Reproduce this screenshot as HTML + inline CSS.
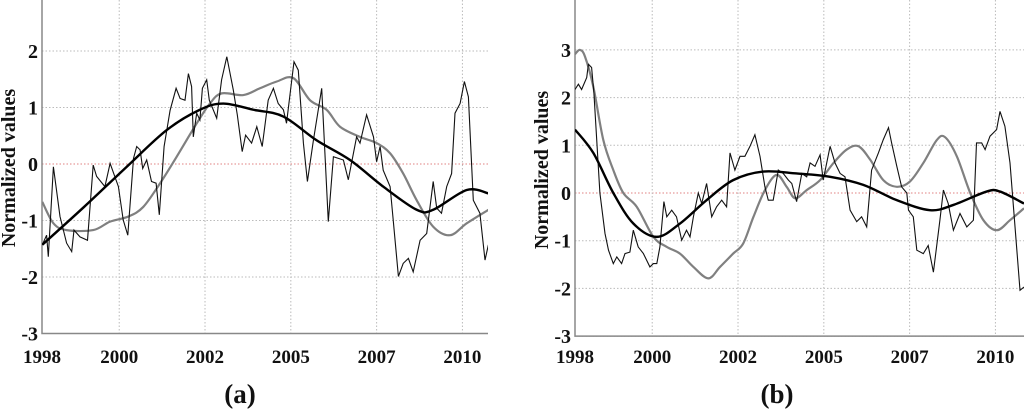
<!DOCTYPE html>
<html><head><meta charset="utf-8"><style>
html,body{margin:0;padding:0;background:#fff;width:1024px;height:411px;overflow:hidden}
svg text{font-family:"Liberation Serif",serif;font-weight:bold;fill:#111}
</style></head><body>
<svg id="chart" width="1024" height="411" viewBox="0 0 1024 411" xmlns="http://www.w3.org/2000/svg"></svg>
<script>
const xTickMonths=[0,27,57,87,117,147];
const xTickLabels=['1998','2000','2002','2005','2007','2010'];
const aYTicks=[-3,-2,-1,0,1,2];
const bYTicks=[-3,-2,-1,0,1,2,3];
const aThinMonths=[0.1,1.6,2.2,4.0,6.3,8.6,10.4,11.2,13.3,15.9,17.9,19.1,22.0,23.8,26.7,28.4,30.0,32.0,33.1,34.3,35.2,36.6,38.3,39.9,41.0,42.7,44.8,46.9,48.3,50.0,51.2,52.3,52.9,54.1,55.2,56.1,57.6,58.5,61.1,62.8,64.6,66.9,68.3,70.0,71.2,73.3,75.1,77.0,79.1,80.9,82.6,84.4,85.5,88.1,89.6,91.4,92.8,94.9,97.8,100.1,101.9,105.4,107.1,110.0,111.2,113.5,115.9,117.0,118.2,119.3,121.7,122.8,124.6,126.3,128.1,129.8,132.2,134.5,136.8,138.0,139.7,141.5,143.2,144.4,146.2,147.7,149.1,150.8,153.1,154.9,156.1];
const aThinValues=[-1.43,-1.26,-1.64,-0.05,-0.93,-1.40,-1.55,-1.17,-1.29,-1.35,-0.02,-0.22,-0.40,0.01,-0.40,-0.99,-1.26,0.10,0.31,0.25,-0.08,0.07,-0.31,-0.34,-0.90,0.31,0.95,1.34,1.16,1.13,1.60,1.37,0.48,0.90,0.78,1.34,1.49,1.13,0.81,1.49,1.90,1.31,0.87,0.22,0.51,0.37,0.66,0.31,1.13,1.34,1.07,0.96,0.72,1.81,1.66,0.37,-0.31,0.42,1.34,-1.02,0.13,0.07,-0.28,0.48,0.37,0.87,0.48,0.04,0.31,-0.11,-0.40,-0.99,-1.99,-1.76,-1.67,-1.91,-1.35,-1.23,-0.31,-0.78,-0.87,-0.40,-0.17,0.90,1.07,1.46,1.19,-0.64,-0.87,-1.70,-1.43];
const aGrayMonths=[0.1,4.0,8.6,17.9,23.8,30.2,35.4,41.3,47.1,54.1,58.7,62.8,70.4,76.2,82.1,87.9,93.7,99.5,104.2,111.2,117.0,121.7,126.3,131.0,136.8,142.7,148.5,156.1];
const aGrayValues=[-0.67,-1.05,-1.17,-1.17,-1.02,-0.93,-0.76,-0.34,0.13,0.72,1.07,1.25,1.22,1.34,1.46,1.52,1.13,0.96,0.66,0.48,0.37,0.19,-0.17,-0.64,-1.11,-1.26,-1.05,-0.81];
const aTrendMonths=[0.1,14.7,29.6,43.6,55.2,63.4,73.9,84.4,96.0,107.7,119.3,131.0,136.8,148.5,156.1];
const aTrendValues=[-1.43,-0.76,-0.05,0.60,0.96,1.07,0.96,0.84,0.42,0.07,-0.40,-0.81,-0.81,-0.46,-0.52];
const bThinMonths=[0,1.2,2.3,4.1,4.7,5.8,6.6,8.7,10.5,11.7,13.4,14.6,16.3,17.5,19.2,20.4,22.1,23.9,26.2,27.4,28.6,29.7,31.1,32.1,33.8,35.5,37.3,39.0,40.2,41.4,43.1,44.3,46.0,47.8,49.5,51.3,53.0,54.2,55.9,57.7,59.4,61.2,62.9,64.7,66.4,67.6,69.3,71.1,72.8,74.6,75.8,77.5,79.3,81.0,82.2,83.9,85.7,86.8,89.2,90.9,92.7,94.4,96.2,98.5,100.2,102.0,103.7,106.1,107.8,109.6,110.7,112.5,114.2,116.0,116.6,118.3,119.5,121.8,123.5,125.3,127.6,128.8,130.5,132.3,134.6,137.0,139.3,140.4,142.2,143.4,145.1,147.4,148.6,150.3,152.1,154.4,155.6,157.0];
const bThinValues=[2.17,2.28,2.17,2.42,2.70,2.63,2.10,0.0,-0.85,-1.20,-1.48,-1.34,-1.48,-1.27,-1.24,-0.78,-1.13,-1.27,-1.55,-1.48,-1.48,-1.13,-0.18,-0.50,-0.36,-0.50,-0.99,-0.78,-0.92,-0.50,0.0,-0.22,0.20,-0.50,-0.29,-0.15,-0.29,0.84,0.48,0.77,0.77,0.98,1.22,0.77,0.13,-0.15,-0.15,0.48,0.41,0.27,0.20,-0.18,0.41,0.34,0.63,0.56,0.80,0.27,0.98,0.63,0.41,0.34,-0.36,-0.60,-0.50,-0.71,0.48,0.84,1.12,1.37,1.05,0.56,0.13,0.0,-0.36,-0.50,-1.20,-1.27,-1.10,-1.66,-0.57,0.06,-0.22,-0.78,-0.43,-0.71,-0.57,1.05,1.05,0.91,1.19,1.33,1.71,1.40,0.63,-1.13,-2.04,-1.97];
const bGrayMonths=[0,1.7,3.5,6.4,9.9,13.4,16.9,21.6,27.4,32.1,36.7,41.4,46.6,50.7,55.3,58.8,62.4,66.4,70.5,74.0,77.0,81.0,85.7,90.4,95.0,99.1,103.2,107.8,112.5,117.1,121.8,126.5,129.4,133.5,138.2,142.8,147.5,152.1,157.0];
const bGrayValues=[2.91,3.0,2.86,2.23,1.11,0.48,0.0,-0.29,-0.92,-1.13,-1.27,-1.55,-1.79,-1.55,-1.27,-1.06,-0.50,0.06,0.38,0.13,-0.11,0.06,0.27,0.63,0.91,0.98,0.70,0.27,0.13,0.24,0.63,1.11,1.17,0.77,0.0,-0.57,-0.78,-0.57,-0.32];
const bTrendMonths=[0,6.4,13.4,20.4,28.6,36.7,46.0,55.3,65.8,77.5,89.2,100.8,112.5,124.1,132.3,143.9,148.6,157.0];
const bTrendValues=[1.33,0.84,0.0,-0.64,-0.92,-0.64,-0.15,0.27,0.45,0.41,0.34,0.17,-0.15,-0.36,-0.25,0.03,0.03,-0.22];

const NS='http://www.w3.org/2000/svg';
const svg=document.getElementById('chart');
function mk(tag,attrs,parent){const e=document.createElementNS(NS,tag);for(const k in attrs)e.setAttribute(k,attrs[k]);(parent||svg).appendChild(e);return e;}
function linePath(xs,ys,X,Y){return xs.map((m,i)=>(i?'L':'M')+X(m).toFixed(1)+','+Y(ys[i]).toFixed(1)).join('');}
function smoothPath(xs,ys,X,Y){const p=xs.map((m,i)=>[X(m),Y(ys[i])]);let d='M'+p[0][0]+','+p[0][1];for(let i=0;i<p.length-1;i++){const p0=p[Math.max(i-1,0)],p1=p[i],p2=p[i+1],p3=p[Math.min(i+2,p.length-1)];d+='C'+(p1[0]+(p2[0]-p0[0])/6)+','+(p1[1]+(p2[1]-p0[1])/6)+' '+(p2[0]-(p3[0]-p1[0])/6)+','+(p2[1]-(p3[1]-p1[1])/6)+' '+p2[0]+','+p2[1];}return d;}

function panel(cfg){
  const g=mk('g',{});
  
  
  const X=m=>cfg.x0+m*2.86;
  const Y=v=>cfg.y0-v*cfg.ppu;
  const bottom=Y(-3);
  const cp=mk('clipPath',{id:cfg.name+'-clip'},g);
  mk('rect',{x:cfg.x0,y:0,width:cfg.right-cfg.x0,height:bottom},cp);
  cfg.yTicks.forEach(v=>{
    const l=mk('line',{x1:cfg.x0,x2:cfg.right,y1:Y(v),y2:Y(v),stroke:v===0?'#e08080':'#bbb','stroke-width':1,'stroke-dasharray':'1.5,2'},g);
    
    
    const t=mk('text',{x:cfg.x0-4,y:Y(v)+7,'text-anchor':'end','font-size':20},g);
    t.textContent=String(v);
    
    
  });
  xTickMonths.forEach((m,i)=>{
    const l=mk('line',{x1:X(m),x2:X(m),y1:0,y2:bottom,stroke:'#bbb','stroke-width':1,'stroke-dasharray':'1.5,2'},g);
    
    
    const t=mk('text',{x:X(m),y:363,'text-anchor':'middle','font-size':19},g);
    t.textContent=xTickLabels[i];
    
    
  });
  const ax=mk('path',{d:`M${cfg.x0},0V${bottom}H${cfg.right}`,fill:'none',stroke:'#888','stroke-width':1.5},g);
  
  
  const cl={'clip-path':`url(#${cfg.name}-clip)`,fill:'none'};
  const gr=mk('path',Object.assign({d:smoothPath(cfg.gm,cfg.gv,X,Y),stroke:'#808080','stroke-width':2.2},cl),g);
  
  
  const th=mk('path',Object.assign({d:linePath(cfg.tm,cfg.tv,X,Y),stroke:'#111','stroke-width':1.1},cl),g);
  
  
  const tr=mk('path',Object.assign({d:smoothPath(cfg.rm,cfg.rv,X,Y),stroke:'#000','stroke-width':2.4},cl),g);
  
  
  const yl=mk('text',{x:0,y:0,'text-anchor':'middle','font-size':20,transform:`translate(${cfg.ylx},${cfg.yly}) rotate(-90)`},g);
  yl.textContent='Normalized values';
  
  
  const pl=mk('text',{x:cfg.plx,y:403,'text-anchor':'middle','font-size':27},g);
  pl.textContent=cfg.label;
  
  
}
panel({name:'panel-a',x0:42,right:488,y0:164,ppu:56.5,yTicks:aYTicks,tm:aThinMonths,tv:aThinValues,gm:aGrayMonths,gv:aGrayValues,rm:aTrendMonths,rv:aTrendValues,ylx:15,yly:168,plx:240,label:'(a)'});
panel({name:'panel-b',x0:575,right:1024,y0:193,ppu:47.7,yTicks:bYTicks,tm:bThinMonths,tv:bThinValues,gm:bGrayMonths,gv:bGrayValues,rm:bTrendMonths,rv:bTrendValues,ylx:548,yly:170,plx:777,label:'(b)'});
</script>
</body></html>
